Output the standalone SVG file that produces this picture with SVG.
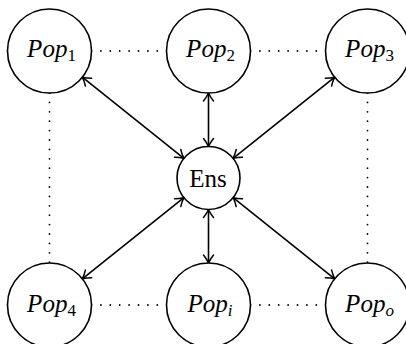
<svg xmlns="http://www.w3.org/2000/svg" width="406" height="344" viewBox="0 0 406 344">
<style>
.node circle { fill: #fff; stroke: #000; stroke-width: 1.6; }
.lbl { font-family: "Liberation Serif", "Times New Roman", serif; font-size: 25px; fill: #000; text-anchor: middle; }
.it { font-style: italic; }
.sub { font-size: 17px; }
.subn { font-size: 17px; font-style: normal; }
.arrow { stroke: #000; stroke-width: 1.6; fill: none; marker-start: url(#ah); marker-end: url(#ah); }
.dots { stroke: #000; stroke-width: 1.8; stroke-linecap: round; stroke-dasharray: 0 9.4; fill: none; }
</style>
<defs>
<marker id="ah" viewBox="-10 -7 12 14" markerWidth="12" markerHeight="14" refX="0" refY="0" orient="auto-start-reverse" markerUnits="userSpaceOnUse">
<path d="M -8,-5 C -4.5,-2.2 -1.8,-0.8 0,0 C -1.8,0.8 -4.5,2.2 -8,5" fill="none" stroke="#000" stroke-width="1.5" stroke-linecap="round"/>
</marker>
</defs>
<g id="connectors">
<line class="dots" x1="91.5" y1="51" x2="166.5" y2="51"/>
<line class="dots" x1="250.5" y1="51" x2="325.5" y2="51"/>
<line class="dots" x1="91.5" y1="305" x2="166.5" y2="305"/>
<line class="dots" x1="250.5" y1="305" x2="325.5" y2="305"/>
<line class="dots" x1="49.5" y1="93" x2="49.5" y2="263"/>
<line class="dots" x1="367.5" y1="93" x2="367.5" y2="263"/>
<line class="arrow" x1="82.3" y1="77.2" x2="183.9" y2="158.3"/>
<line class="arrow" x1="208.5" y1="93" x2="208.5" y2="146.5"/>
<line class="arrow" x1="334.7" y1="77.2" x2="233.1" y2="158.3"/>
<line class="arrow" x1="82.3" y1="278.8" x2="183.9" y2="197.7"/>
<line class="arrow" x1="208.5" y1="263" x2="208.5" y2="209.5"/>
<line class="arrow" x1="334.7" y1="278.8" x2="233.1" y2="197.7"/>
</g>
<g id="pop1" class="node">
<circle cx="49.5" cy="51" r="42"/>
<text class="lbl it" x="51.5" y="57">Pop<tspan class="subn" dy="4">1</tspan></text>
</g>
<g id="pop2" class="node">
<circle cx="208.5" cy="51" r="42"/>
<text class="lbl it" x="210.5" y="57">Pop<tspan class="subn" dy="4">2</tspan></text>
</g>
<g id="pop3" class="node">
<circle cx="367.5" cy="51" r="42"/>
<text class="lbl it" x="369.5" y="57">Pop<tspan class="subn" dy="4">3</tspan></text>
</g>
<g id="ens" class="node">
<circle cx="208.5" cy="178" r="31.5"/>
<text class="lbl" x="208" y="186.5">Ens</text>
</g>
<g id="pop4" class="node">
<circle cx="49.5" cy="305" r="42"/>
<text class="lbl it" x="51.5" y="311.5">Pop<tspan class="subn" dy="4">4</tspan></text>
</g>
<g id="popi" class="node">
<circle cx="208.5" cy="305" r="42"/>
<text class="lbl it" x="210" y="311.5">Pop<tspan class="sub" dy="4">i</tspan></text>
</g>
<g id="popo" class="node">
<circle cx="367.5" cy="305" r="42"/>
<text class="lbl it" x="369.5" y="311.5">Pop<tspan class="sub" dy="4">o</tspan></text>
</g>
</svg>
